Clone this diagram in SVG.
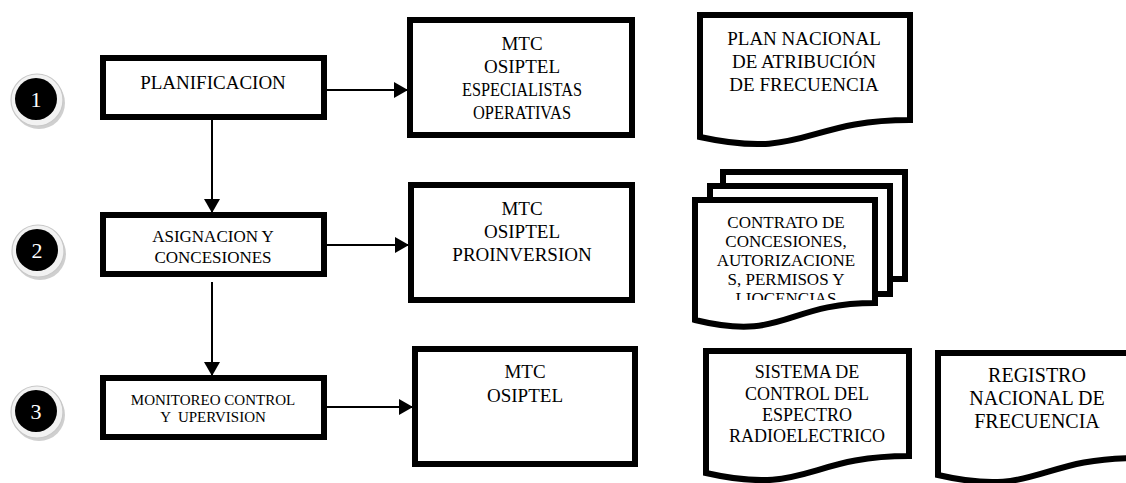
<svg xmlns="http://www.w3.org/2000/svg" width="1126" height="483" viewBox="0 0 1126 483">
<style>
.box{fill:#fff;stroke:#000;stroke-width:6}
.doc{fill:#fff;stroke:#000;stroke-width:6;stroke-linejoin:miter}
.t{font-family:"Liberation Serif","Times New Roman",serif;fill:#000;text-anchor:middle}
.num{font-family:"Liberation Serif","Times New Roman",serif;fill:#fff;text-anchor:middle;font-size:22px}
.conn{stroke:#000;stroke-width:2;fill:none}
.ring{fill:#f2f2f2;stroke:#c8c8c8;stroke-width:1.2}
.ringb{fill:#cfcfcf}
</style>
<defs>
<marker id="ah" markerWidth="14" markerHeight="16" refX="13" refY="8" orient="auto" markerUnits="userSpaceOnUse">
<path d="M0,0 L14,8 L0,16 Z" fill="#000"/>
</marker>
<clipPath id="clipFront"><rect x="690" y="195" width="190" height="105"/></clipPath>
</defs>

<g id="circle1">
<circle class="ringb" cx="39" cy="103" r="26"/>
<circle class="ring" cx="37" cy="100" r="26"/>
<circle cx="36" cy="99" r="21" fill="#000"/>
<text class="num" x="36" y="107">1</text>
</g>
<g id="circle2">
<circle class="ringb" cx="40" cy="254" r="26"/>
<circle class="ring" cx="38" cy="251" r="26"/>
<circle cx="37" cy="250" r="21" fill="#000"/>
<text class="num" x="37" y="258">2</text>
</g>
<g id="circle3">
<circle class="ringb" cx="39" cy="415" r="26"/>
<circle class="ring" cx="37" cy="412" r="26"/>
<circle cx="36" cy="411" r="21" fill="#000"/>
<text class="num" x="36" y="419">3</text>
</g>

<g id="planificacion">
<rect class="box" x="103" y="58" width="221" height="59"/>
<text class="t" x="213" y="89" font-size="19">PLANIFICACION</text>
</g>
<g id="asignacion">
<rect class="box" x="103" y="215" width="221" height="59"/>
<text class="t" x="213" y="242" font-size="17">ASIGNACION Y</text>
<text class="t" x="213" y="263" font-size="17">CONCESIONES</text>
</g>
<g id="monitoreo">
<rect class="box" x="103" y="378" width="221" height="59"/>
<text class="t" x="213" y="405" font-size="15">MONITOREO CONTROL</text>
<text class="t" x="213" y="422" font-size="15" xml:space="preserve">Y  UPERVISION</text>
</g>

<g id="actores1">
<rect class="box" x="410" y="20" width="222" height="115"/>
<text class="t" x="522" y="50" font-size="19">MTC</text>
<text class="t" x="522" y="73" font-size="19">OSIPTEL</text>
<text class="t" x="522" y="96" font-size="19" textLength="120" lengthAdjust="spacingAndGlyphs">ESPECIALISTAS</text>
<text class="t" x="522" y="119" font-size="19" textLength="98" lengthAdjust="spacingAndGlyphs">OPERATIVAS</text>
</g>
<g id="actores2">
<rect class="box" x="411" y="185" width="221" height="115"/>
<text class="t" x="522" y="215" font-size="19">MTC</text>
<text class="t" x="522" y="238" font-size="19">OSIPTEL</text>
<text class="t" x="522" y="261" font-size="19">PROINVERSION</text>
</g>
<g id="actores3">
<rect class="box" x="415" y="349" width="220" height="115"/>
<text class="t" x="525" y="378" font-size="19">MTC</text>
<text class="t" x="525" y="402" font-size="19">OSIPTEL</text>
</g>

<g id="doc-plan">
<path class="doc" d="M700,15 H910 V120 C805,120 805,160 700,137 Z"/>
<text class="t" x="804" y="45" font-size="19">PLAN NACIONAL</text>
<text class="t" x="804" y="68" font-size="19">DE ATRIBUCIÓN</text>
<text class="t" x="804" y="91" font-size="19">DE FRECUENCIA</text>
</g>

<g id="doc-contratos">
<rect class="doc" x="723" y="172" width="182" height="107"/>
<rect class="doc" x="710" y="186" width="180" height="108"/>
<path class="doc" d="M695,200 H875 V303 C785,303 785,342 695,320 Z"/>
<g clip-path="url(#clipFront)">
<text class="t" x="786" y="228" font-size="17">CONTRATO DE</text>
<text class="t" x="786" y="247" font-size="17">CONCESIONES,</text>
<text class="t" x="786" y="266" font-size="17">AUTORIZACIONE</text>
<text class="t" x="786" y="285" font-size="17">S, PERMISOS Y</text>
<text class="t" x="786" y="304" font-size="17">LIOCENCIAS</text>
</g>
</g>

<g id="doc-sistema">
<path class="doc" d="M706,351 H909 V456 C807,456 807,496 706,473 Z"/>
<text class="t" x="807" y="378" font-size="18">SISTEMA DE</text>
<text class="t" x="807" y="400" font-size="18">CONTROL DEL</text>
<text class="t" x="807" y="421" font-size="18">ESPECTRO</text>
<text class="t" x="807" y="442" font-size="18">RADIOELECTRICO</text>
</g>

<g id="doc-registro">
<path class="doc" d="M938,353 H1136 V458 C1037,458 1037,498 938,475 Z"/>
<text class="t" x="1037" y="382" font-size="20">REGISTRO</text>
<text class="t" x="1037" y="405" font-size="20">NACIONAL DE</text>
<text class="t" x="1037" y="428" font-size="20">FRECUENCIA</text>
</g>

<g id="connectors">
<line class="conn" x1="327" y1="90" x2="407" y2="90" marker-end="url(#ah)"/>
<line class="conn" x1="327" y1="245" x2="408" y2="245" marker-end="url(#ah)"/>
<line class="conn" x1="327" y1="407" x2="412" y2="407" marker-end="url(#ah)"/>
<line class="conn" x1="212" y1="120" x2="212" y2="212" marker-end="url(#ah)"/>
<line class="conn" x1="212" y1="282" x2="212" y2="375" marker-end="url(#ah)"/>
</g>
</svg>
